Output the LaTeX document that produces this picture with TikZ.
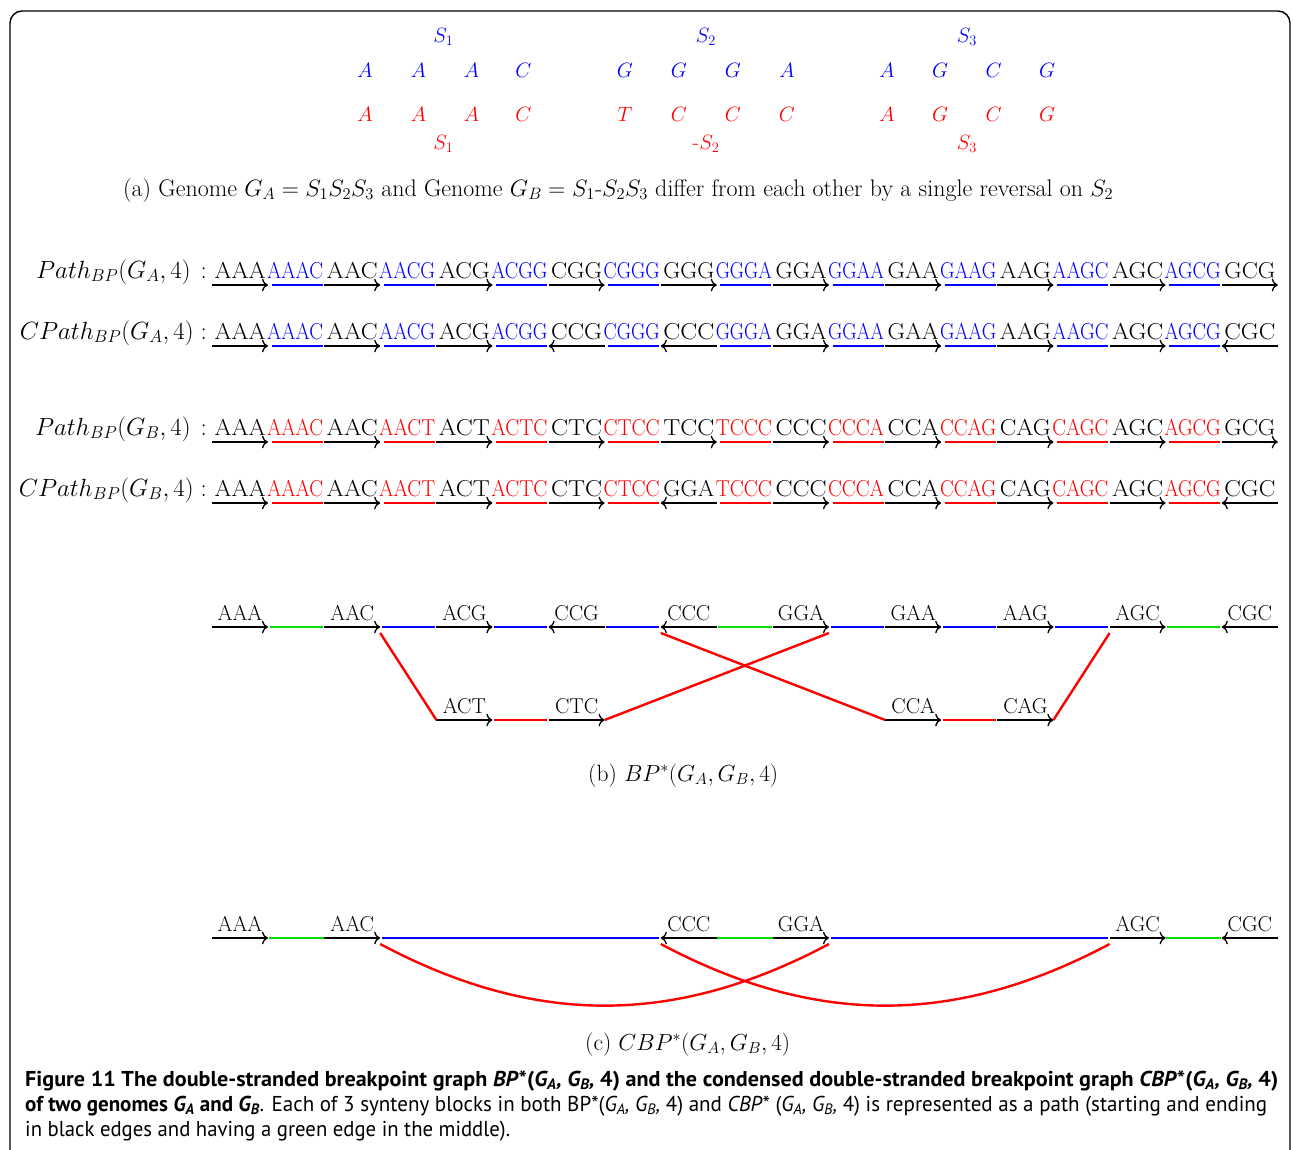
\documentclass[tikz,border=0pt]{standalone}
\usepackage{graphicx}
\usepackage{fontspec}
\usetikzlibrary{arrows.meta}
\newfontfamily\capfont{PT Sans}
\definecolor{myblue}{RGB}{0,0,255}
\definecolor{myred}{RGB}{255,0,0}
\definecolor{mygreen}{RGB}{0,225,0}
% row of k-mers: #1 name, #2 y of line, #3 colour, #4 trimers k/text/dir, #5 quads k/text
\newcommand\segrow[5]{%
  \foreach \kk/\tri/\dr in {#4}{%
    \coordinate (#1a\kk) at ({212+112.2*\kk},#2);
    \coordinate (#1b\kk) at ({268+112.2*\kk},#2);
    \draw[\dr] (#1a\kk) -- (#1b\kk);
    \node[seqtxt] (#1t\kk) at ({240+112.2*\kk},{#2-7}) {\resizebox{51pt}{\height}{\tri}};
  }%
  \foreach \kk/\qq in {#5}{%
    \coordinate (#1c\kk) at ({271.5+112.2*\kk},#2);
    \coordinate (#1d\kk) at ({322.5+112.2*\kk},#2);
    \draw[colseg,#3] (#1c\kk) -- (#1d\kk);
    \node[seqtxt,text=#3] (#1q\kk) at ({295+112.2*\kk},{#2-7}) {\resizebox{56pt}{\height}{\qq}};
  }%
}
% graph segment: #1 name, #2 slot, #3 y, #4 label, #5 direction style
\newcommand\gseg[5]{%
  \coordinate (#1s) at ({212+112.2*#2},#3);
  \coordinate (#1e) at ({268+112.2*#2},#3);
  \draw[#5] (#1s) -- (#1e);
  \node[glab] (#1) at ({240+112.2*#2},{#3-7}) {#4};
}
\begin{document}
\begin{tikzpicture}[x=1pt,y=-1pt,
  blk/.style={line width=1.3pt,black},
  fwd/.style={blk,-{To[scale=1.35]}},
  bwd/.style={blk,{To[scale=1.35]}-},
  colseg/.style={line width=2.8pt},
  redc/.style={line width=2.4pt,myred},
  seqtxt/.style={inner sep=0pt,anchor=base,font=\fontsize{23}{23}\selectfont},
  glab/.style={inner sep=0pt,anchor=base,font=\fontsize{21.5}{21.5}\selectfont},
  alet/.style={inner sep=0pt,anchor=base,font=\fontsize{22}{22}\selectfont},
  rlab/.style={inner sep=0pt,anchor=base east,font=\fontsize{23.5}{23.5}\selectfont},
  capt/.style={inner sep=0pt,anchor=base west,font=\fontsize{21}{21}\selectfont},
  figcap/.style={inner sep=0pt,anchor=base west,font=\capfont\fontsize{21.5}{21.5}\selectfont}
]
\useasboundingbox (0,0) rectangle (1293,1149);
\clip (0,0) rectangle (1293,1149);
\draw[line width=1.4pt,rounded corners=12pt] (10,11) rectangle (1290,1180);

% ---------- (a) ----------
\node[alet,text=myblue] (sa1) at (443.5,42) {$S_1$};
\node[alet,text=myblue] (sa2) at (706,42) {$S_2$};
\node[alet,text=myblue] (sa3) at (967,42) {$S_3$};
\foreach \nm/\xx/\ch in {1/365/A,2/418.5/A,3/471.5/A,4/523.5/C,5/625/G,6/679/G,7/733/G,8/787/A,9/887/A,10/940/G,11/993.5/C,12/1047/G}{
  \node[alet,text=myblue] (ua\nm) at (\xx,77) {$\ch$};
}
\foreach \nm/\xx/\ch in {1/365/A,2/418.5/A,3/471.5/A,4/523.5/C,5/625/T,6/679/C,7/733/C,8/787/C,9/887/A,10/940/G,11/993.5/C,12/1047/G}{
  \node[alet,text=myred] (la\nm) at (\xx,121) {$\ch$};
}
\node[alet,text=myred] (sb1) at (443.5,149) {$S_1$};
\node[alet,text=myred] (sb2) at (706,149) {-$S_2$};
\node[alet,text=myred] (sb3) at (967,149) {$S_3$};
\node[capt] (capa) at (123,196) {\resizebox{990pt}{!}{(a) Genome $G_A=S_1S_2S_3$ and Genome $G_B=S_1$-$S_2S_3$ differ from each other by a single reversal on $S_2$}};

% ---------- paths ----------
\node[rlab] (lpa) at (207,278) {$Path_{BP}(G_A,4)\hspace{3pt}:$};
\node[rlab] (lca) at (207,339) {$CPath_{BP}(G_A,4):$};
\node[rlab] (lpb) at (207,435) {$Path_{BP}(G_B,4)\hspace{3pt}:$};
\node[rlab] (lcb) at (207,496) {$CPath_{BP}(G_B,4):$};

\segrow{pa}{285}{myblue}{0/AAA/fwd,1/AAC/fwd,2/ACG/fwd,3/CGG/fwd,4/GGG/fwd,5/GGA/fwd,6/GAA/fwd,7/AAG/fwd,8/AGC/fwd,9/GCG/fwd}{0/AAAC,1/AACG,2/ACGG,3/CGGG,4/GGGA,5/GGAA,6/GAAG,7/AAGC,8/AGCG}
\segrow{ca}{346}{myblue}{0/AAA/fwd,1/AAC/fwd,2/ACG/fwd,3/CCG/bwd,4/CCC/bwd,5/GGA/fwd,6/GAA/fwd,7/AAG/fwd,8/AGC/fwd,9/CGC/bwd}{0/AAAC,1/AACG,2/ACGG,3/CGGG,4/GGGA,5/GGAA,6/GAAG,7/AAGC,8/AGCG}
\segrow{pb}{442}{myred}{0/AAA/fwd,1/AAC/fwd,2/ACT/fwd,3/CTC/fwd,4/TCC/fwd,5/CCC/fwd,6/CCA/fwd,7/CAG/fwd,8/AGC/fwd,9/GCG/fwd}{0/AAAC,1/AACT,2/ACTC,3/CTCC,4/TCCC,5/CCCA,6/CCAG,7/CAGC,8/AGCG}
\segrow{cb}{503}{myred}{0/AAA/fwd,1/AAC/fwd,2/ACT/fwd,3/CTC/fwd,4/GGA/bwd,5/CCC/fwd,6/CCA/fwd,7/CAG/fwd,8/AGC/fwd,9/CGC/bwd}{0/AAAC,1/AACT,2/ACTC,3/CTCC,4/TCCC,5/CCCA,6/CCAG,7/CAGC,8/AGCG}

% ---------- (b) ----------
\gseg{bAAA}{0}{627}{AAA}{fwd}
\gseg{bAAC}{1}{627}{AAC}{fwd}
\gseg{bACG}{2}{627}{ACG}{fwd}
\gseg{bCCG}{3}{627}{CCG}{bwd}
\gseg{bCCC}{4}{627}{CCC}{bwd}
\gseg{bGGA}{5}{627}{GGA}{fwd}
\gseg{bGAA}{6}{627}{GAA}{fwd}
\gseg{bAAG}{7}{627}{AAG}{fwd}
\gseg{bAGC}{8}{627}{AGC}{fwd}
\gseg{bCGC}{9}{627}{CGC}{bwd}
\gseg{bACT}{2}{720}{ACT}{fwd}
\gseg{bCTC}{3}{720}{CTC}{fwd}
\gseg{bCCA}{6}{720}{CCA}{fwd}
\gseg{bCAG}{7}{720}{CAG}{fwd}

\draw[colseg,mygreen] ([xshift=1.5pt]bAAAe) -- ([xshift=-1.5pt]bAACs);
\draw[colseg,myblue] ([xshift=2pt]bAACe) -- ([xshift=-1.5pt]bACGs);
\draw[colseg,myblue] ([xshift=2pt]bACGe) -- ([xshift=-1.5pt]bCCGs);
\draw[colseg,myblue] ([xshift=1.5pt]bCCGe) -- ([xshift=-1.5pt]bCCCs);
\draw[colseg,mygreen] ([xshift=1.5pt]bCCCe) -- ([xshift=-1.5pt]bGGAs);
\draw[colseg,myblue] ([xshift=2pt]bGGAe) -- ([xshift=-1.5pt]bGAAs);
\draw[colseg,myblue] ([xshift=2pt]bGAAe) -- ([xshift=-1.5pt]bAAGs);
\draw[colseg,myblue] ([xshift=2pt]bAAGe) -- ([xshift=-1.5pt]bAGCs);
\draw[colseg,mygreen] ([xshift=1.5pt]bAGCe) -- ([xshift=-1.5pt]bCGCs);
\draw[colseg,myred] ([xshift=2pt]bACTe) -- ([xshift=-1.5pt]bCTCs);
\draw[colseg,myred] ([xshift=2pt]bCCAe) -- ([xshift=-1.5pt]bCAGs);

\draw[redc] ([yshift=-6pt]bAACe) -- (bACTs);
\draw[redc] (bCTCe) -- ([yshift=-6pt]bGGAe);
\draw[redc] ([yshift=-6pt]bCCCs) -- (bCCAs);
\draw[redc] (bCAGe) -- ([yshift=-6pt]bAGCs);

\node[capt] (capb) at (588,781) {\resizebox{190pt}{!}{(b) $BP^{*}(G_A,G_B,4)$}};

% ---------- (c) ----------
\gseg{cAAA}{0}{938}{AAA}{fwd}
\gseg{cAAC}{1}{938}{AAC}{fwd}
\gseg{cCCC}{4}{938}{CCC}{bwd}
\gseg{cGGA}{5}{938}{GGA}{fwd}
\gseg{cAGC}{8}{938}{AGC}{fwd}
\gseg{cCGC}{9}{938}{CGC}{bwd}

\draw[colseg,mygreen] ([xshift=0.5pt]cAAAe) -- ([xshift=-0.5pt]cAACs);
\draw[colseg,myblue] ([xshift=2pt]cAACe) -- ([xshift=-1.5pt]cCCCs);
\draw[colseg,mygreen] ([xshift=0.5pt]cCCCe) -- ([xshift=-0.5pt]cGGAs);
\draw[colseg,myblue] ([xshift=2pt]cGGAe) -- ([xshift=-1.5pt]cAGCs);
\draw[colseg,mygreen] ([xshift=0.5pt]cAGCe) -- ([xshift=-0.5pt]cCGCs);

\draw[redc] ([yshift=-6pt]cAACe) to[out=-28,in=-152] ([yshift=-6pt]cGGAe);
\draw[redc] ([yshift=-6pt]cCCCs) to[out=-28,in=-152] ([yshift=-6pt]cAGCs);

\node[capt] (capc) at (585,1050) {\resizebox{205pt}{!}{(c) $CBP^{*}(G_A,G_B,4)$}};

% ---------- figure caption ----------
\node[figcap] (fc1) at (25,1086) {\resizebox{1253pt}{\height}{\textbf{Figure 11 The double-stranded breakpoint graph \textit{BP}*(\textit{G\textsubscript{A}, G\textsubscript{B},} 4) and the condensed double-stranded breakpoint graph \textit{CBP}*(\textit{G\textsubscript{A}, G\textsubscript{B},} 4)}}};
\node[figcap] (fc2) at (25,1111) {\resizebox{1242pt}{\height}{\textbf{of two genomes \textit{G\textsubscript{A}} and \textit{G\textsubscript{B}}}. Each of 3 synteny blocks in both BP*(\textit{G\textsubscript{A}, G\textsubscript{B},} 4) and \textit{CBP}* (\textit{G\textsubscript{A}, G\textsubscript{B},} 4) is represented as a path (starting and ending}};
\node[figcap] (fc3) at (25,1136) {\resizebox{485pt}{\height}{in black edges and having a green edge in the middle).}};
\end{tikzpicture}
\end{document}
